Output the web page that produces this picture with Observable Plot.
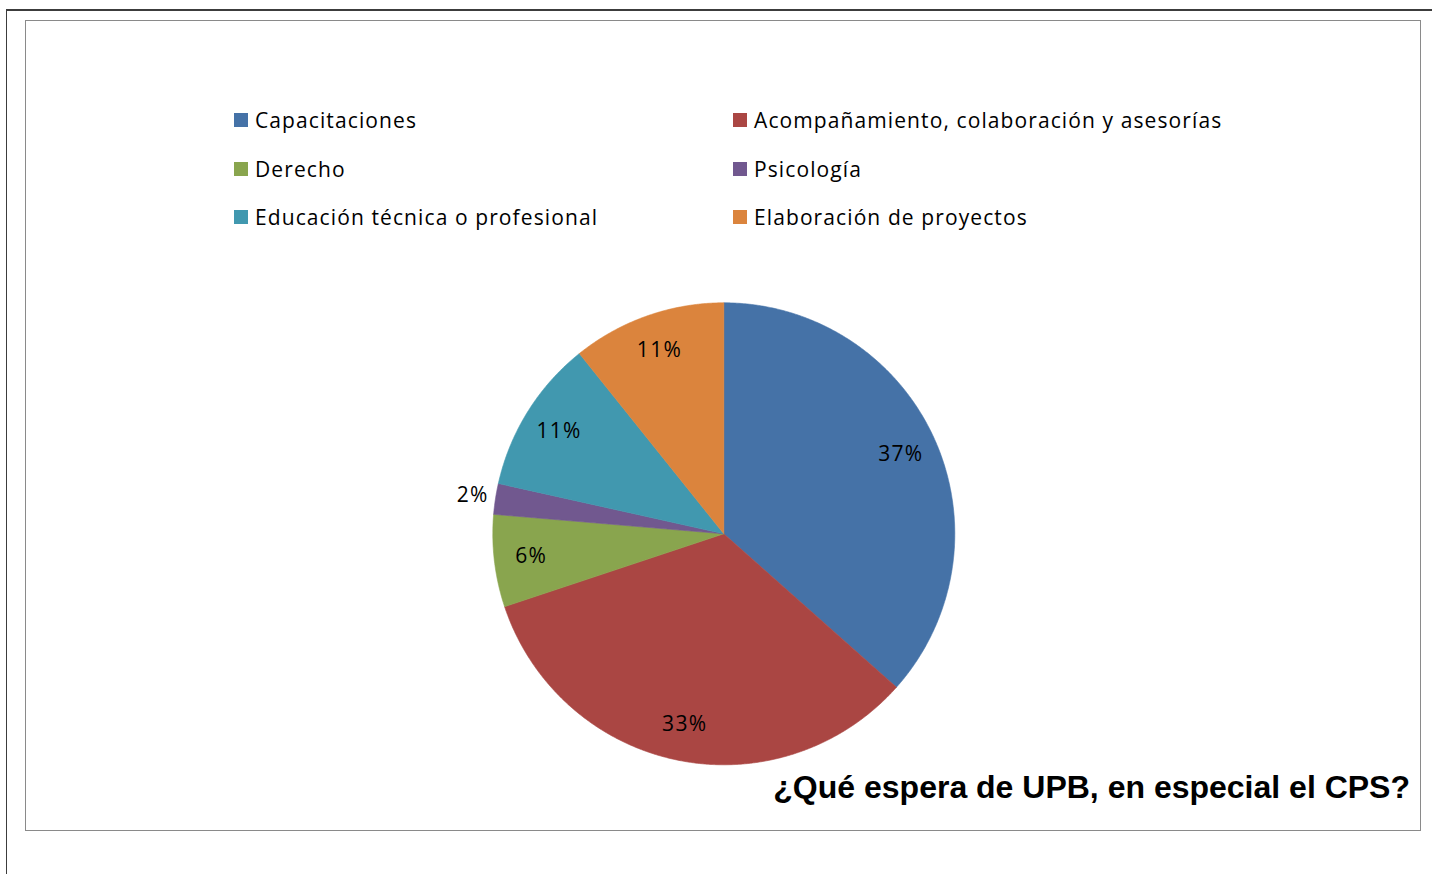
<!DOCTYPE html>
<html>
<head>
<meta charset="utf-8">
<script src="https://cdn.jsdelivr.net/npm/d3@7"></script>
<script src="https://cdn.jsdelivr.net/npm/@observablehq/plot@0.6"></script>
<style>
  html, body { margin: 0; padding: 0; background: #fff; }
  body { width: 1432px; height: 874px; position: relative; overflow: hidden; font-family: "Open Sans", Lato, sans-serif; }
  #frameTop { position: absolute; left: 6px; top: 9px; width: 1426px; height: 1.6px; background: #3c3c3c; }
  #frameLeft { position: absolute; left: 5.5px; top: 9px; width: 1.6px; height: 865px; background: #3c3c3c; }
  #box { position: absolute; left: 25px; top: 20px; width: 1394px; height: 809px; border: 1.6px solid #8a8a8a; }
  #legend { position: absolute; left: 234px; top: 106px; display: grid; grid-template-columns: 499px auto; grid-auto-rows: 48.5px; }
  .item { display: flex; align-items: center; height: 28px; font-size: 21px; letter-spacing: 1.1px; color: #000; white-space: nowrap; }
  .sw { width: 14px; height: 14px; margin-right: 7px; flex: none; }
  #title { position: absolute; right: 22px; top: 769px; font-family: "Liberation Sans", Arial, sans-serif; font-weight: bold; font-size: 32px; line-height: 36px; color: #000; white-space: nowrap; }
  #chart { position: absolute; left: 0; top: 0; }
</style>
</head>
<body>
<div id="frameTop"></div>
<div id="frameLeft"></div>
<div id="box"></div>
<div id="chart"></div>
<div id="legend"></div>
<div id="title"></div>
<script>
const categories = [
  "Capacitaciones",
  "Acompañamiento, colaboración y asesorías",
  "Derecho",
  "Psicología",
  "Educación técnica o profesional",
  "Elaboración de proyectos"
];
const counts = [34, 31, 6, 2, 10, 10];
const colors = ["#4572A7", "#AA4643", "#89A54E", "#71588F", "#4198AF", "#DB843D"];
const titleText = "¿Qué espera de UPB, en especial el CPS?";

document.getElementById("title").textContent = titleText;

// Legend
const legend = document.getElementById("legend");
categories.forEach((c, i) => {
  const d = document.createElement("div");
  d.className = "item";
  const s = document.createElement("span");
  s.className = "sw";
  s.style.background = colors[i];
  d.appendChild(s);
  d.appendChild(document.createTextNode(c));
  legend.appendChild(d);
});

// Pie geometry from data
const total = d3.sum(counts);
const arcs = d3.pie().sort(null).value(d => d)(counts);
const polys = [];
arcs.forEach((a, i) => {
  const cat = categories[i];
  polys.push({cat, x: 0, y: 0});
  const n = Math.max(2, Math.ceil((a.endAngle - a.startAngle) / 0.005));
  for (let k = 0; k <= n; k++) {
    const t = a.startAngle + (a.endAngle - a.startAngle) * k / n;
    polys.push({cat, x: Math.sin(t), y: Math.cos(t)});
  }
  polys.push({cat, x: 0, y: 0});
});
const labels = arcs.map((a, i) => {
  const share = counts[i] / total;
  const mid = (a.startAngle + a.endAngle) / 2;
  const r = share < 0.03 ? 1.1 : 0.84;
  return {cat: categories[i], x: r * Math.sin(mid), y: r * Math.cos(mid), text: Math.round(share * 100) + "%"};
});

const cx = 723.3, cy = 533.3, R = 231;
const W = 1432, H = 874;
const plot = Plot.plot({
  width: W,
  height: H,
  marginLeft: cx - R,
  marginRight: W - (cx + R),
  marginTop: cy - R,
  marginBottom: H - (cy + R),
  x: {domain: [-1, 1], axis: null},
  y: {domain: [-1, 1], axis: null},
  color: {domain: categories, range: colors},
  style: {background: "transparent", fontFamily: "'Open Sans', Lato, sans-serif", letterSpacing: "1.3px"},
  marks: [
    Plot.line(polys, {x: "x", y: "y", z: "cat", fill: "cat", stroke: "cat", strokeWidth: 0.6, curve: "linear"}),
    Plot.text(labels, {x: "x", y: "y", text: "text", fontSize: 21, fill: "#000", fontFamily: "'Open Sans', Lato, sans-serif"})
  ]
});
document.getElementById("chart").appendChild(plot);
</script>
</body>
</html>
